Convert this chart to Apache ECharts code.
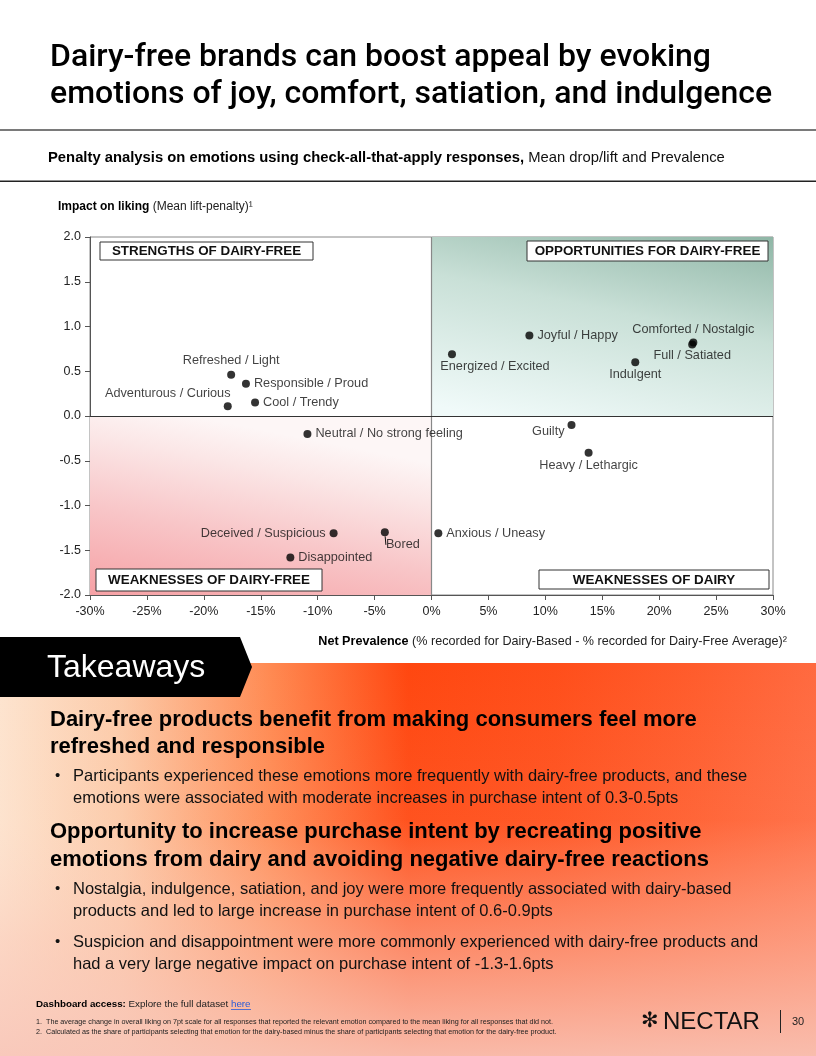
<!DOCTYPE html>
<html>
<head>
<meta charset="utf-8">
<script src="https://cdn.jsdelivr.net/npm/echarts@6/dist/echarts.min.js"></script>
<style>
html,body{margin:0;padding:0;background:#fff;}
#c{width:816px;height:1056px;}
</style>
</head>
<body>
<div id="c"></div>
<script>
// ---- Data ----
const emotions = [
  'Refreshed / Light', 'Responsible / Proud', 'Adventurous / Curious', 'Cool / Trendy',
  'Joyful / Happy', 'Comforted / Nostalgic', 'Full / Satiated', 'Energized / Excited', 'Indulgent',
  'Neutral / No strong feeling', 'Guilty', 'Heavy / Lethargic',
  'Deceived / Suspicious', 'Bored', 'Disappointed', 'Anxious / Uneasy'
];
const netPrevalence = [-17.6, -16.3, -17.9, -15.5, 8.6, 23.0, 22.9, 1.8, 17.9, -10.9, 12.3, 13.8, -8.6, -4.1, -12.4, 0.6];
const impactOnLiking = [0.46, 0.36, 0.11, 0.15, 0.90, 0.82, 0.80, 0.69, 0.60, -0.20, -0.10, -0.41, -1.31, -1.30, -1.58, -1.31];
const xTicks = [-30, -25, -20, -15, -10, -5, 0, 5, 10, 15, 20, 25, 30];
const yTicks = [-2.0, -1.5, -1.0, -0.5, 0.0, 0.5, 1.0, 1.5, 2.0];
const quadrantLabels = ['STRENGTHS OF DAIRY-FREE', 'OPPORTUNITIES FOR DAIRY-FREE', 'WEAKNESSES OF DAIRY-FREE', 'WEAKNESSES OF DAIRY'];

// ---- Label placement (style only) ----
const labelPlace = {
  'Refreshed / Light': {position: 'top', distance: 4},
  'Responsible / Proud': {position: 'right', distance: 4},
  'Adventurous / Curious': {position: 'top', distance: 2},
  'Cool / Trendy': {position: 'right', distance: 4},
  'Joyful / Happy': {position: 'right', distance: 4},
  'Comforted / Nostalgic': {position: 'top', distance: 3},
  'Full / Satiated': {position: 'bottom', distance: 1},
  'Energized / Excited': {position: 'bottom', distance: 2},
  'Indulgent': {position: 'bottom', distance: 2},
  'Neutral / No strong feeling': {position: 'right', distance: 4},
  'Guilty': {position: 'left', distance: 3},
  'Heavy / Lethargic': {position: 'bottom', distance: 2},
  'Deceived / Suspicious': {position: 'left', distance: 4},
  'Bored': {position: 'bottom', distance: 1},
  'Disappointed': {position: 'right', distance: 4},
  'Anxious / Uneasy': {position: 'right', distance: 4}
};
const labelShift = {
  'Adventurous / Curious': {dx: -60, dy: 0},
  'Energized / Excited': {dx: 43, dy: 0},
  'Guilty': {dx: 0, dy: 7},
  'Bored': {dx: 18, dy: 1}
};

const FONT = '"Liberation Sans", Arial, Helvetica, sans-serif';
const chart = echarts.init(document.getElementById('c'), null, {renderer: 'canvas'});

const scatterData = emotions.map((n, i) => {
  const d = {
    name: n,
    value: [netPrevalence[i], impactOnLiking[i]],
    label: Object.assign({show: true, formatter: n}, labelPlace[n] || {})
  };
  if (n === 'Bored') d.labelLine = {show: true, length2: 0, smooth: false, lineStyle: {color: '#111', width: 1}};
  return d;
});

const G = echarts.graphic;
const quadBox = (x, y, w, h, text) => ({
  type: 'group', z: 100,
  children: [
    {type: 'rect', z: 100, shape: {x: x, y: y, width: w, height: h}, style: {fill: '#fff', stroke: '#333', lineWidth: 1}},
    {type: 'text', z: 101, style: {x: x + w / 2, y: y + h / 2 + 0.5, text: text, textAlign: 'center', textVerticalAlign: 'middle',
      font: 'bold 13.4px ' + FONT, fill: '#111'}}
  ]
});

const option = {
  animation: false,
  textStyle: {fontFamily: FONT},
  grid: {left: 90, right: 43, top: 237, bottom: 461, show: true, borderColor: '#888', borderWidth: 1, backgroundColor: 'transparent'},
  xAxis: {
    type: 'value', min: xTicks[0], max: xTicks[xTicks.length - 1], interval: 5,
    axisLine: {show: true, onZero: false, lineStyle: {color: '#555', width: 1}},
    axisTick: {show: true, length: 5, lineStyle: {color: '#555'}},
    splitLine: {show: false},
    axisLabel: {color: '#222', fontSize: 12.5, margin: 10, formatter: v => v + '%'}
  },
  yAxis: {
    type: 'value', min: yTicks[0], max: yTicks[yTicks.length - 1], interval: 0.5,
    axisLine: {show: true, onZero: false, lineStyle: {color: '#555', width: 1}},
    axisTick: {show: true, length: 5, lineStyle: {color: '#555'}},
    splitLine: {show: false},
    axisLabel: {color: '#222', fontSize: 12.5, margin: 9, formatter: v => v.toFixed(1)}
  },
  series: [{
    type: 'scatter',
    symbol: 'circle', symbolSize: 8,
    itemStyle: {color: '#000'},
    label: {color: '#111', fontSize: 12.7, fontFamily: FONT},
    labelLine: {show: false},
    labelLayout: function (p) {
      const s = labelShift[emotions[p.dataIndex]];
      return s ? {dx: s.dx, dy: s.dy} : {dx: 0, dy: 0};
    },
    data: scatterData,
    z: 10,
    markArea: {
      silent: true,
      data: [
        [{coord: [0, 0], itemStyle: {color: new G.LinearGradient(1, 0, 0.86, 1.28, [
            {offset: 0, color: '#8fb6a6'}, {offset: 0.45, color: '#c9e0d7'}, {offset: 1, color: '#f0faf9'}])}},
         {coord: [30, 2]}],
        [{coord: [-30, -2], itemStyle: {color: new G.LinearGradient(0, 1, 0.11, -0.07, [
            {offset: 0, color: '#f6a1a5'}, {offset: 0.45, color: '#f8c6c8'}, {offset: 0.8, color: '#fbe6e6'}, {offset: 1, color: '#fdf6f6'}])}},
         {coord: [0, 0]}]
      ]
    },
    markLine: {
      silent: true, symbol: 'none', label: {show: false},
      data: [
        {xAxis: 0, lineStyle: {color: '#888', width: 1.2, type: 'solid'}},
        {yAxis: 0, lineStyle: {color: '#333', width: 1.2, type: 'solid'}}
      ]
    }
  }],
  graphic: [
    // header
    {type: 'text', style: {x: 50, y: 58, text: 'Dairy-free brands can boost appeal by evoking', font: '500 32px Roboto, ' + FONT, fill: '#000', textVerticalAlign: 'middle'}},
    {type: 'text', style: {x: 50, y: 95, text: 'emotions of joy, comfort, satiation, and indulgence', font: '500 32px Roboto, ' + FONT, fill: '#000', textVerticalAlign: 'middle'}},
    {type: 'rect', shape: {x: 0, y: 129, width: 816, height: 2}, style: {fill: '#7a7a7a'}},
    {type: 'text', style: {x: 48, y: 158, textVerticalAlign: 'middle',
      text: '{b|Penalty analysis on emotions using check-all-that-apply responses,}{r| Mean drop/lift and Prevalence}',
      rich: {b: {font: 'bold 14.8px ' + FONT, fill: '#000'}, r: {font: '14.8px ' + FONT, fill: '#111'}}}},
    {type: 'rect', shape: {x: 0, y: 180.5, width: 816, height: 1.5}, style: {fill: '#222'}},
    {type: 'text', style: {x: 58, y: 207, textVerticalAlign: 'middle',
      text: '{b|Impact on liking}{r| (Mean lift-penalty)¹}',
      rich: {b: {font: 'bold 12px ' + FONT, fill: '#000'}, r: {font: '12px ' + FONT, fill: '#222'}}}},
    quadBox(100, 242, 213, 18, quadrantLabels[0]),
    quadBox(527, 241, 241, 20, quadrantLabels[1]),
    quadBox(96, 569, 226, 22, quadrantLabels[2]),
    quadBox(539, 570, 230, 19, quadrantLabels[3]),
    {type: 'text', style: {x: 787, y: 642, textAlign: 'right', textVerticalAlign: 'middle',
      text: '{b|Net Prevalence}{r| (% recorded for Dairy-Based - % recorded for Dairy-Free Average)²}',
      rich: {b: {font: 'bold 12.6px ' + FONT, fill: '#000'}, r: {font: '12.6px ' + FONT, fill: '#222'}}}},
    // takeaways background
    {type: 'rect', z: -10, shape: {x: 0, y: 663, width: 816, height: 393},
      style: {fill: new G.LinearGradient(0, 0, 1, 0, [
        {offset: 0, color: '#fde4cf'}, {offset: 0.15, color: '#fccaa8'}, {offset: 0.33, color: '#ff8a52'},
        {offset: 0.5, color: '#ff4710'}, {offset: 0.68, color: '#ff4e1a'}, {offset: 0.85, color: '#ff5c2c'}, {offset: 1, color: '#ff6a40'}])}},
    {type: 'rect', z: -9, shape: {x: 0, y: 663, width: 816, height: 393},
      style: {fill: new G.LinearGradient(0, 0, 0, 1, [
        {offset: 0, color: 'rgba(252,215,200,0)'}, {offset: 0.4, color: 'rgba(252,215,200,0.08)'},
        {offset: 0.7, color: 'rgba(250,200,185,0.5)'}, {offset: 1, color: 'rgba(248,198,185,0.9)'}])}},
    {type: 'polygon', z: 5, shape: {points: [[0, 637], [240, 637], [252, 667], [240, 697], [0, 697]]}, style: {fill: '#000'}},
    {type: 'text', z: 6, style: {x: 47, y: 668, text: 'Takeaways', font: '32px ' + FONT, fill: '#fff', textVerticalAlign: 'middle'}},
    // takeaways text
    {type: 'text', style: {x: 50, y: 720, text: 'Dairy-free products benefit from making consumers feel more', font: 'bold 22px ' + FONT, fill: '#000', textVerticalAlign: 'middle'}},
    {type: 'text', style: {x: 50, y: 747, text: 'refreshed and responsible', font: 'bold 22px ' + FONT, fill: '#000', textVerticalAlign: 'middle'}},
    {type: 'text', style: {x: 55, y: 776, text: '•', font: '15px ' + FONT, fill: '#111', textVerticalAlign: 'middle'}},
    {type: 'text', style: {x: 73, y: 776, text: 'Participants experienced these emotions more frequently with dairy-free products, and these', font: '16.5px ' + FONT, fill: '#111', textVerticalAlign: 'middle'}},
    {type: 'text', style: {x: 73, y: 798, text: 'emotions were associated with moderate increases in purchase intent of 0.3-0.5pts', font: '16.5px ' + FONT, fill: '#111', textVerticalAlign: 'middle'}},
    {type: 'text', style: {x: 50, y: 832, text: 'Opportunity to increase purchase intent by recreating positive', font: 'bold 22px ' + FONT, fill: '#000', textVerticalAlign: 'middle'}},
    {type: 'text', style: {x: 50, y: 860, text: 'emotions from dairy and avoiding negative dairy-free reactions', font: 'bold 22px ' + FONT, fill: '#000', textVerticalAlign: 'middle'}},
    {type: 'text', style: {x: 55, y: 889, text: '•', font: '15px ' + FONT, fill: '#111', textVerticalAlign: 'middle'}},
    {type: 'text', style: {x: 73, y: 889, text: 'Nostalgia, indulgence, satiation, and joy were more frequently associated with dairy-based', font: '16.5px ' + FONT, fill: '#111', textVerticalAlign: 'middle'}},
    {type: 'text', style: {x: 73, y: 911, text: 'products and led to large increase in purchase intent of 0.6-0.9pts', font: '16.5px ' + FONT, fill: '#111', textVerticalAlign: 'middle'}},
    {type: 'text', style: {x: 55, y: 942, text: '•', font: '15px ' + FONT, fill: '#111', textVerticalAlign: 'middle'}},
    {type: 'text', style: {x: 73, y: 942, text: 'Suspicion and disappointment were more commonly experienced with dairy-free products and', font: '16.5px ' + FONT, fill: '#111', textVerticalAlign: 'middle'}},
    {type: 'text', style: {x: 73, y: 964, text: 'had a very large negative impact on purchase intent of -1.3-1.6pts', font: '16.5px ' + FONT, fill: '#111', textVerticalAlign: 'middle'}},
    // footer
    {type: 'text', style: {x: 36, y: 1004, textVerticalAlign: 'middle',
      text: '{b|Dashboard access:}{r| Explore the full dataset }{l|here}',
      rich: {b: {font: 'bold 9.8px ' + FONT, fill: '#000'}, r: {font: '9.8px ' + FONT, fill: '#222'}, l: {font: '9.8px ' + FONT, fill: '#2a5bd7'}}}},
    {type: 'rect', shape: {x: 231, y: 1009, width: 20, height: 0.8}, style: {fill: '#2a5bd7'}},
    {type: 'text', style: {x: 36, y: 1022, text: '1.  The average change in overall liking on 7pt scale for all responses that reported the relevant emotion compared to the mean liking for all responses that did not.', font: '7.2px ' + FONT, fill: '#222', textVerticalAlign: 'middle'}},
    {type: 'text', style: {x: 36, y: 1032, text: '2.  Calculated as the share of participants selecting that emotion for the dairy-based minus the share of participants selecting that emotion for the dairy-free product.', font: '7.2px ' + FONT, fill: '#222', textVerticalAlign: 'middle'}},
    {type: 'text', style: {x: 641, y: 1022, text: '✻', font: 'bold 21px "DejaVu Sans", sans-serif', fill: '#111', textVerticalAlign: 'middle'}},
    {type: 'text', style: {x: 663, y: 1022, text: 'NECTAR', font: '24px ' + FONT, fill: '#111', textVerticalAlign: 'middle'}},
    {type: 'rect', shape: {x: 780, y: 1010, width: 1, height: 23}, style: {fill: '#222'}},
    {type: 'text', style: {x: 792, y: 1022, text: '30', font: '11px ' + FONT, fill: '#222', textVerticalAlign: 'middle'}}
  ]
};
chart.setOption(option);
</script>
</body>
</html>
